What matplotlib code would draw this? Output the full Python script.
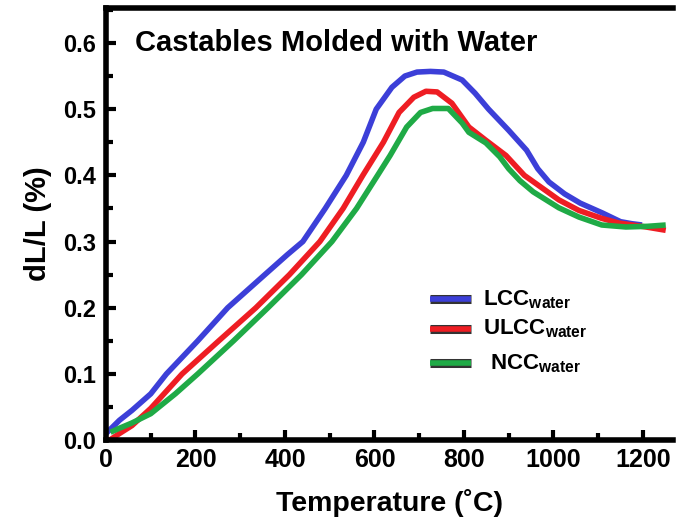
import matplotlib.pyplot as plt
import matplotlib.patheffects as pe
from matplotlib.ticker import MultipleLocator

plt.rcParams['font.family'] = ['Liberation Sans', 'DejaVu Sans']
plt.rcParams['mathtext.fontset'] = 'custom'
plt.rcParams['mathtext.bf'] = 'Liberation Sans:bold'
plt.rcParams['mathtext.rm'] = 'Liberation Sans'

# curves: temperature (C) and dL/L (%)
lcc_t = [0, 30, 58, 100, 135, 205, 272, 355, 405, 440, 465, 490, 537, 575, 604, 639, 668,
         695, 725, 755, 796, 825, 855, 900, 940, 965, 990, 1025, 1060, 1110, 1150, 1175, 1198]
lcc_v = [0.01, 0.03, 0.045, 0.07, 0.1, 0.15, 0.2, 0.25, 0.28, 0.3, 0.325, 0.35, 0.4, 0.45,
         0.5, 0.533, 0.55, 0.556, 0.557, 0.556, 0.544, 0.524, 0.5, 0.468, 0.438, 0.41, 0.39,
         0.372, 0.358, 0.343, 0.33, 0.327, 0.325]

ulcc_t = [8, 30, 58, 100, 170, 252, 335, 410, 478, 530, 574, 620, 655, 688, 715, 740, 773,
          811, 849, 894, 935, 1012, 1057, 1108, 1146, 1207, 1251]
ulcc_v = [0.0, 0.01, 0.022, 0.048, 0.1, 0.15, 0.2, 0.25, 0.3, 0.35, 0.4, 0.45, 0.495,
          0.518, 0.527, 0.526, 0.509, 0.473, 0.453, 0.43, 0.4, 0.363, 0.347, 0.335, 0.328,
          0.322, 0.317]

ncc_t = [10, 30, 58, 100, 155, 205, 285, 362, 437, 505, 560, 607, 635, 672, 703, 730, 765,
         796, 811, 849, 880, 900, 925, 955, 1012, 1057, 1108, 1162, 1210, 1251]
ncc_v = [0.012, 0.018, 0.026, 0.04, 0.07, 0.1, 0.15, 0.2, 0.25, 0.3, 0.35, 0.4, 0.43,
         0.473, 0.495, 0.501, 0.501, 0.479, 0.465, 0.449, 0.428, 0.41, 0.392, 0.375, 0.351,
         0.337, 0.325, 0.322, 0.323, 0.325]

colors = ['#3c3fd8', '#ee1d23', '#1faa46']
labels = [r'LCC$_{\mathbf{water}}$', r'ULCC$_{\mathbf{water}}$', r'NCC$_{\mathbf{water}}$']

fig = plt.figure(figsize=(6.83, 5.24), dpi=100)
ax = fig.add_axes([0.1552, 0.16, 0.830, 0.825])

for t, v, c in zip([lcc_t, ulcc_t, ncc_t], [lcc_v, ulcc_v, ncc_v], colors):
    ax.plot(t, v, color=c, lw=4, solid_capstyle='butt', solid_joinstyle='round')

ax.set_xlim(0, 1267)
ax.set_ylim(0, 0.653)
ax.xaxis.set_major_locator(MultipleLocator(200))
ax.xaxis.set_minor_locator(MultipleLocator(100))
ax.yaxis.set_major_locator(MultipleLocator(0.1))
ax.yaxis.set_minor_locator(MultipleLocator(0.05))
ax.yaxis.set_major_formatter(plt.FuncFormatter(lambda v, p: f'{v:.1f}'))
ax.tick_params(which='both', direction='in', width=3, top=False, right=False)
ax.tick_params(which='major', length=7)
ax.tick_params(which='minor', length=5)
ax.tick_params(axis='x', labelsize=18, pad=6)
ax.tick_params(axis='y', labelsize=17, pad=7)
for lab in ax.get_xticklabels() + ax.get_yticklabels():
    lab.set_fontweight('bold')

for s in ['left', 'bottom', 'top']:
    ax.spines[s].set_linewidth(4)
ax.spines['right'].set_visible(False)

ax.set_xlabel('Temperature (\u02daC)', fontsize=20.5, fontweight='bold', labelpad=12)
ax.set_ylabel('dL/L (%)', fontsize=21, fontweight='bold', labelpad=8)

ax.text(0.051, 0.919, 'Castables Molded with Water', transform=ax.transAxes,
        fontsize=21, fontweight='bold', va='center')

# legend drawn by hand to get outlined handles
leg_y = [0.326, 0.257, 0.178]
leg_x = [0.665, 0.665, 0.677]
for c, lab, y, x in zip(colors, labels, leg_y, leg_x):
    ax.plot([0.572, 0.643], [y, y], transform=ax.transAxes, color=c, lw=4,
            solid_capstyle='butt',
            path_effects=[pe.Stroke(linewidth=6.5, foreground='#333333'), pe.Normal()])
    ax.text(x, y, lab, transform=ax.transAxes, fontsize=16, fontweight='bold', va='center')

fig.savefig('out.png', dpi=100)
